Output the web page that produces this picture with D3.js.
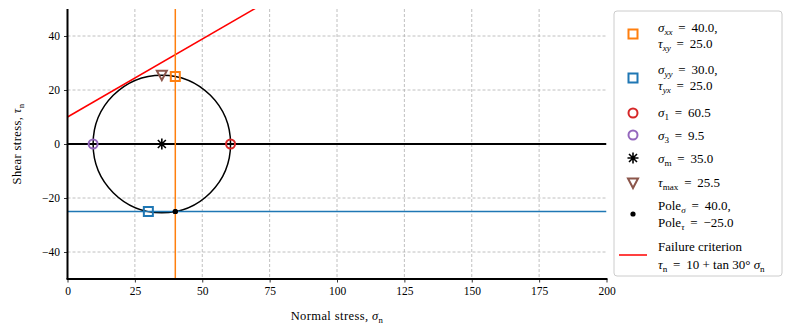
<!DOCTYPE html>
<html>
<head>
<meta charset="utf-8">
<script src="https://cdn.jsdelivr.net/npm/d3@7"></script>
<style>
    body { margin: 0; background: #fff; }
    svg text { font-family: "Liberation Serif", serif; fill: #000; }
</style>
</head>
<body>
<div id="chart"></div>
<script>
// data
const xDomain = [0, 200];
const yDomain = [-50, 50];
const xTicks = [0, 25, 50, 75, 100, 125, 150, 175, 200];
const yTicks = [-40, -20, 0, 20, 40];

const planeX = [40.0, 25.0];     // sigma_xx, tau_xy
const planeY = [30.0, -25.0];    // sigma_yy, tau_yx (plotted below axis)
const principal = [60.5, 9.5];   // sigma_1, sigma_3
const centre = [35.0, 0];        // sigma_m
const tauMax = [35.0, 25.5];
const pole = [40.0, -25.0];
const radius = [25.5];
const failure = [10, 30];        // cohesion, friction angle (deg)

const outerWidth = 791;
const outerHeight = 334;
const margin = { top: 9, right: 184.5, bottom: 55, left: 67.5 };
const width = outerWidth - margin.left - margin.right;
const height = outerHeight - margin.top - margin.bottom;

const fmt = d3.format('.1f');
const minus = (s) => s.replace('-', '\u2212');

const svg = d3.select('#chart').append('svg')
    .attr('width', outerWidth)
    .attr('height', outerHeight);

const g = svg.append('g')
    .attr('transform', `translate(${[margin.left, margin.top]})`);

const x = d3.scaleLinear().domain(xDomain).range([0, width]);
const y = d3.scaleLinear().domain(yDomain).range([height, 0]);

svg.append('defs').append('clipPath').attr('id', 'clip')
    .append('rect').attr('width', width).attr('height', height);

// grid
g.append('g')
    .selectAll('line')
    .data(xTicks.slice(1, -1))
    .join('line')
    .attr('x1', (d) => x(d)).attr('x2', (d) => x(d))
    .attr('y1', 0).attr('y2', height)
    .attr('stroke', '#b0b0b0').attr('stroke-width', 0.8)
    .attr('stroke-dasharray', '3,2');
g.append('g')
    .selectAll('line')
    .data(yTicks)
    .join('line')
    .attr('y1', (d) => y(d)).attr('y2', (d) => y(d))
    .attr('x1', 0).attr('x2', width)
    .attr('stroke', '#b0b0b0').attr('stroke-width', 0.8)
    .attr('stroke-dasharray', '3,2');

// axes
const xAxis = d3.axisBottom(x).tickValues(xTicks).tickSize(3.5).tickPadding(4)
    .tickFormat(d3.format('d'));
const yAxis = d3.axisLeft(y).tickValues(yTicks).tickSize(3.5).tickPadding(4)
    .tickFormat((d) => minus(String(d)));

const xAxisG = g.append('g').attr('transform', `translate(0,${height})`).call(xAxis);
const yAxisG = g.append('g').call(yAxis);
[xAxisG, yAxisG].forEach((a) => {
    a.attr('font-family', '"Liberation Serif", serif').attr('font-size', 11.5);
    a.select('.domain').remove();
    a.selectAll('.tick line').attr('stroke', '#000').attr('stroke-width', 0.8);
});

const plot = g.append('g').attr('clip-path', 'url(#clip)');

// zero line
plot.append('line')
    .attr('x1', 0).attr('x2', width)
    .attr('y1', y(0)).attr('y2', y(0))
    .attr('stroke', '#000').attr('stroke-width', 2);

// mohr circle
plot.append('ellipse')
    .attr('cx', x(centre[0])).attr('cy', y(centre[1]))
    .attr('rx', x(centre[0] + radius[0]) - x(centre[0]))
    .attr('ry', y(0) - y(radius[0]))
    .attr('fill', 'none').attr('stroke', '#000').attr('stroke-width', 1.5);

// failure criterion
const tanPhi = Math.tan(failure[1] * Math.PI / 180);
plot.append('path')
    .datum(xDomain)
    .attr('d', d3.line().x((d) => x(d)).y((d) => y(failure[0] + tanPhi * d)))
    .attr('stroke', '#ff0000').attr('stroke-width', 1.5).attr('fill', 'none');

// plane lines
plot.append('line')
    .attr('x1', 0).attr('x2', width)
    .attr('y1', y(pole[1])).attr('y2', y(pole[1]))
    .attr('stroke', '#1f77b4').attr('stroke-width', 1.5);

// marker helpers
const markers = {
    square: (sel, c) => sel.append('rect')
        .attr('x', -4.5).attr('y', -4.5).attr('width', 9).attr('height', 9)
        .attr('fill', 'none').attr('stroke', c).attr('stroke-width', 2),
    circle: (sel, c) => sel.append('circle').attr('r', 4.5)
        .attr('fill', 'none').attr('stroke', c).attr('stroke-width', 2),
    triangle: (sel, c) => sel.append('path')
        .attr('d', 'M-5,-4.5L5,-4.5L0,5Z')
        .attr('fill', 'none').attr('stroke', c).attr('stroke-width', 2)
        .attr('stroke-linejoin', 'miter'),
    dot: (sel, c) => sel.append('circle').attr('r', 2.6).attr('fill', c),
    asterisk: (sel, c) => sel.append('path')
        .attr('d', 'M-5.5,0L5.5,0M0,-5.5L0,5.5M-4,-4L4,4M-4,4L4,-4')
        .attr('stroke', c).attr('stroke-width', 1.6),
};

const points = [
    { p: planeX, m: 'square', c: '#ff7f0e' },
    { p: planeY, m: 'square', c: '#1f77b4' },
    { p: [principal[0], 0], m: 'circle', c: '#d62728' },
    { p: [principal[1], 0], m: 'circle', c: '#9467bd' },
    { p: centre, m: 'asterisk', c: '#000' },
    { p: tauMax, m: 'triangle', c: '#8c564b' },
    { p: pole, m: 'dot', c: '#000' },
];

points.forEach((d) => {
    const mg = g.append('g').attr('transform', `translate(${[x(d.p[0]), y(d.p[1])]})`);
    markers[d.m](mg, d.c);
});

// vertical plane line drawn over markers
plot.append('line')
    .attr('x1', x(pole[0])).attr('x2', x(pole[0]))
    .attr('y1', 0).attr('y2', height)
    .attr('stroke', '#ff7f0e').attr('stroke-width', 1.5);
g.append('circle').attr('cx', x(pole[0])).attr('cy', y(pole[1])).attr('r', 2.6).attr('fill', '#000');

// spines
g.append('line').attr('x1', 0).attr('x2', 0).attr('y1', 0).attr('y2', height)
    .attr('stroke', '#000').attr('stroke-width', 2);
g.append('line').attr('x1', -1).attr('x2', width + 1).attr('y1', height).attr('y2', height)
    .attr('stroke', '#000').attr('stroke-width', 2);

// math text helper: parts are [string, style]; styles i, r, si, sr
const mathText = (sel, parts, size) => {
    const t = sel.append('text').attr('font-size', size);
    let shifted = false;
    parts.forEach(([s, st]) => {
        const sub = st[0] === 's';
        const span = t.append('tspan').text(s)
            .attr('font-style', st.endsWith('i') ? 'italic' : 'normal');
        if (sub) span.attr('font-size', size * 0.7);
        if (sub && !shifted) { span.attr('dy', size * 0.25); shifted = true; }
        if (!sub && shifted) { span.attr('dy', -size * 0.25); shifted = false; }
    });
    return t;
};

const eq = '\u2009=\u2009';

// axis labels
mathText(g.append('g').attr('transform', `translate(${[width / 2, height + 41]})`),
    [['Normal stress, ', 'r'], ['σ', 'i'], ['n', 'sr']], 12.5)
    .attr('text-anchor', 'middle').attr('letter-spacing', 0.4);
mathText(g.append('g').attr('transform', `translate(${[-47, height / 2]}) rotate(-90)`),
    [['Shear stress, ', 'r'], ['τ', 'i'], ['n', 'sr']], 12.5)
    .attr('text-anchor', 'middle').attr('letter-spacing', 0.4);

// legend
const legend = svg.append('g').attr('transform', 'translate(614,11)');
legend.append('rect')
    .attr('width', 168).attr('height', 265).attr('rx', 3)
    .attr('fill', '#fff').attr('fill-opacity', 0.8)
    .attr('stroke', '#cccccc').attr('stroke-width', 1);

const entries = [
    { m: 'square', c: '#ff7f0e', my: 23, lines: [
        [['σ', 'i'], ['xx', 'si'], [` ${eq} ${fmt(planeX[0])},`, 'r']],
        [['τ', 'i'], ['xy', 'si'], [` ${eq} ${fmt(planeX[1])}`, 'r']],
    ], ly: [16, 32] },
    { m: 'square', c: '#1f77b4', my: 67, lines: [
        [['σ', 'i'], ['yy', 'si'], [` ${eq} ${fmt(planeY[0])},`, 'r']],
        [['τ', 'i'], ['yx', 'si'], [` ${eq} ${fmt(Math.abs(planeY[1]))}`, 'r']],
    ], ly: [58, 74] },
    { m: 'circle', c: '#d62728', my: 102, lines: [
        [['σ', 'i'], ['1', 'sr'], [` ${eq} ${fmt(principal[0])}`, 'r']],
    ], ly: [101] },
    { m: 'circle', c: '#9467bd', my: 124, lines: [
        [['σ', 'i'], ['3', 'sr'], [` ${eq} ${fmt(principal[1])}`, 'r']],
    ], ly: [124] },
    { m: 'asterisk', c: '#000', my: 147, lines: [
        [['σ', 'i'], ['m', 'sr'], [` ${eq} ${fmt(centre[0])}`, 'r']],
    ], ly: [147] },
    { m: 'triangle', c: '#8c564b', my: 172, lines: [
        [['τ', 'i'], ['max', 'sr'], [` ${eq} ${fmt(tauMax[1])}`, 'r']],
    ], ly: [171] },
    { m: 'dot', c: '#000', my: 203, lines: [
        [['Pole', 'r'], ['σ', 'si'], [` ${eq} ${fmt(pole[0])},`, 'r']],
        [['Pole', 'r'], ['τ', 'si'], [` ${eq} ${minus(fmt(pole[1]))}`, 'r']],
    ], ly: [194, 211] },
    { m: 'line', c: '#ff0000', my: 244, lines: [
        [['Failure criterion', 'r']],
        [['τ', 'i'], ['n', 'sr'], [` ${eq} ${failure[0]} + tan ${failure[1]}° `, 'r'], ['σ', 'i'], ['n', 'sr']],
    ], ly: [235, 253] },
];

entries.forEach((e) => {
    const mg = legend.append('g').attr('transform', `translate(${[19, e.my]})`);
    if (e.m === 'line') {
        mg.append('line').attr('x1', -14).attr('x2', 14)
            .attr('stroke', e.c).attr('stroke-width', 1.5);
    } else {
        markers[e.m](mg, e.c);
    }
    e.lines.forEach((parts, i) => {
        mathText(legend.append('g').attr('transform', `translate(${[44, e.ly[i] + 4.5]})`), parts, 13);
    });
});
</script>
</body>
</html>
